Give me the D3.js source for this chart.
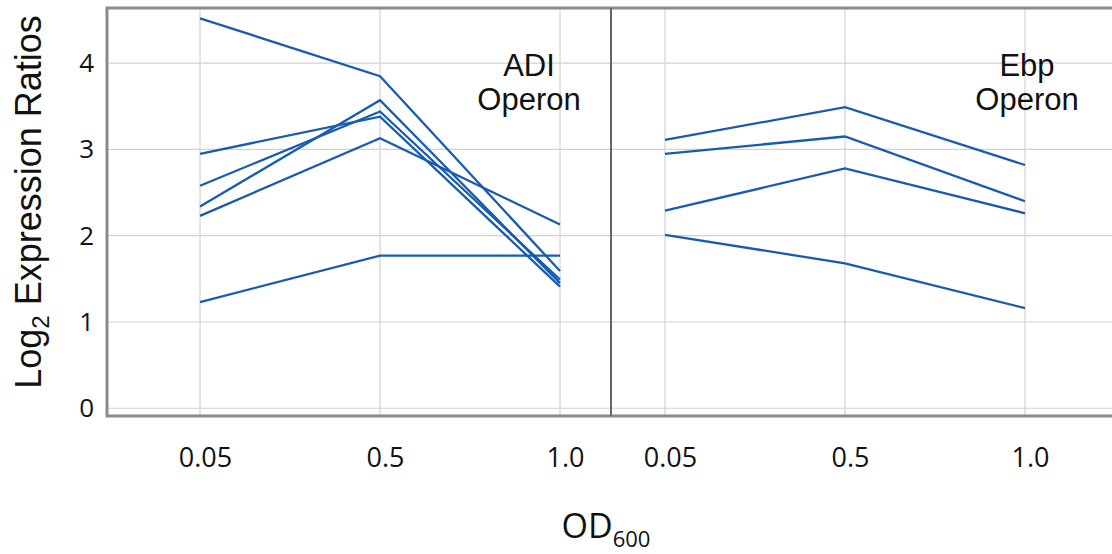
<!DOCTYPE html>
<html>
<head>
<meta charset="utf-8">
<script src="https://cdn.jsdelivr.net/npm/d3@7"></script>
<style>
  body { margin: 0; background: #fff; }
</style>
</head>
<body>
<div id="chart-area"></div>
<script>
// OD600 sampling points (same for both panels)
const odLabels = ["0.05", "0.5", "1.0"];
const yTicks = [0, 1, 2, 3, 4];

// ADI operon genes, log2 ratios at each OD
const adiSeries = [
    [4.52, 3.85, 1.59],
    [2.95, 3.38, 1.41],
    [2.58, 3.44, 1.49],
    [2.34, 3.57, 1.45],
    [2.23, 3.13, 2.13],
    [1.23, 1.77, 1.77]
];

// Ebp operon genes
const ebpSeries = [
    [3.11, 3.49, 2.82],
    [2.95, 3.15, 2.40],
    [2.29, 2.78, 2.26],
    [2.01, 1.68, 1.16]
];

const panels = [
    { name: ["ADI", "Operon"], series: adiSeries },
    { name: ["Ebp", "Operon"], series: ebpSeries }
];

const width = 1112, height = 554;
const plotTop = 8, plotBottom = 416, plotLeft = 107, panelW = 504;
const lineColor = "#175cb0";

const svg = d3.select("#chart-area")
    .append("svg")
    .attr("width", width)
    .attr("height", height);

const y = d3.scaleLinear().domain([-0.09, 4.64]).range([plotBottom, plotTop]);

// panel x scales: the first panel leaves more room on the left, the second mirrors it
const aligns = [0.646, 0.375];

panels.forEach((p, i) => {
    const x0 = plotLeft + i * panelW;
    const x = d3.scalePoint()
        .domain(odLabels)
        .range([x0, x0 + panelW])
        .padding(0.4)
        .align(aligns[i]);

    const g = svg.append("g");

    // horizontal grid
    g.selectAll("line.hgrid")
        .data(yTicks)
        .join("line")
        .attr("class", "hgrid")
        .attr("x1", x0).attr("x2", x0 + panelW)
        .attr("y1", d => y(d)).attr("y2", d => y(d))
        .attr("stroke", "#d2d2d2")
        .attr("stroke-width", 1.2);

    // vertical grid
    g.selectAll("line.vgrid")
        .data(odLabels)
        .join("line")
        .attr("class", "vgrid")
        .attr("x1", d => x(d)).attr("x2", d => x(d))
        .attr("y1", plotTop).attr("y2", plotBottom)
        .attr("stroke", "#d2d2d2")
        .attr("stroke-width", 1.2);

    // x tick labels
    const xAxis = g.append("g")
        .attr("transform", "translate(5," + plotBottom + ")")
        .call(d3.axisBottom(x).tickSize(0).tickPadding(32));
    xAxis.select(".domain").remove();
    xAxis.selectAll("text")
        .attr("font-family", "'Open Sans', sans-serif")
        .attr("font-size", 27)
        .attr("fill", "#111");

    // expression lines
    const line = d3.line()
        .x((d, j) => x(odLabels[j]))
        .y(d => y(d));

    g.selectAll("path.gene")
        .data(p.series)
        .join("path")
        .attr("class", "gene")
        .attr("d", line)
        .attr("fill", "none")
        .attr("stroke", lineColor)
        .attr("stroke-width", 2.3);

    // operon name
    const cx = x(odLabels[2]) + (i === 0 ? -31 : 2);
    g.append("text")
        .attr("x", cx)
        .attr("y", 76)
        .attr("text-anchor", "middle")
        .attr("font-family", "'Liberation Sans', Arial, sans-serif")
        .attr("font-size", 31)
        .attr("fill", "#111")
        .selectAll("tspan")
        .data(p.name)
        .join("tspan")
        .attr("x", cx)
        .attr("dy", (d, k) => k === 0 ? 0 : 34)
        .text(d => d);
});

// frame
svg.append("rect")
    .attr("x", plotLeft).attr("y", plotTop)
    .attr("width", panelW * 2).attr("height", plotBottom - plotTop)
    .attr("fill", "none")
    .attr("stroke", "#8a8a8a")
    .attr("stroke-width", 3);

svg.append("line")
    .attr("x1", plotLeft + panelW).attr("x2", plotLeft + panelW)
    .attr("y1", plotTop).attr("y2", plotBottom)
    .attr("stroke", "#666")
    .attr("stroke-width", 2);

// y tick labels
const yAxis = svg.append("g")
    .attr("transform", "translate(" + (plotLeft - 1) + ",0)")
    .call(d3.axisLeft(y).tickValues(yTicks).tickFormat(d3.format("d")).tickSize(0).tickPadding(12));
yAxis.select(".domain").remove();
yAxis.selectAll("text")
    .attr("font-family", "'Open Sans', sans-serif")
    .attr("font-size", 26)
    .attr("fill", "#111");

// y title
const yTitle = svg.append("text")
    .attr("transform", "translate(41,202) rotate(-90)")
    .attr("text-anchor", "middle")
    .attr("font-family", "'Liberation Sans', Arial, sans-serif")
    .attr("font-size", 36)
    .attr("fill", "#111");
yTitle.append("tspan").text("Log");
yTitle.append("tspan").attr("font-size", 24).attr("dy", 8).text("2");
yTitle.append("tspan").attr("dy", -8).text(" Expression Ratios");

// x title
const xTitle = svg.append("text")
    .attr("x", 606)
    .attr("y", 538)
    .attr("text-anchor", "middle")
    .attr("font-family", "'Open Sans', sans-serif")
    .attr("font-size", 34)
    .attr("fill", "#111");
xTitle.append("tspan").text("OD");
xTitle.append("tspan").attr("font-size", 22).attr("dy", 9).text("600");
</script>
</body>
</html>
